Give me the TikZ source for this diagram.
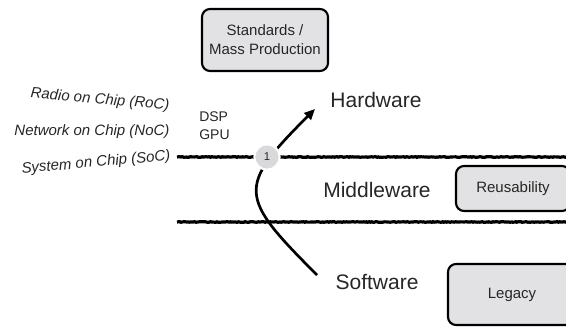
\documentclass[tikz,border=0pt]{standalone}
\usepackage{fontspec}
\setmainfont{Liberation Sans}
\usetikzlibrary{arrows.meta,decorations.pathmorphing}
\definecolor{boxgray}{HTML}{E2E2E4}
\definecolor{circgray}{HTML}{D9D9DB}
\definecolor{textgray}{HTML}{262626}

\begin{document}
\begin{tikzpicture}[x=0.75pt, y=0.75pt,
    box/.style = {draw=black, line width=1.6pt, rounded corners=6pt, fill=boxgray, inner sep=0pt, align=center, text=textgray, font=\fontsize{11.25}{14.25}\selectfont},
    layer/.style = {text=textgray, font=\fontsize{15.75}{18}\selectfont},
    chip/.style = {text=textgray, font=\itshape\fontsize{11.25}{13.5}\selectfont},
    rough/.style = {line width=2.4pt, decorate, decoration={random steps, segment length=1pt, amplitude=0.25pt}}]

    \path[use as bounding box, clip] (0,0) rectangle (566,327);

    % boxes
    \node[box, minimum width=94.5pt, minimum height=46.5pt] (std) at (265,287) {Standards /\\Mass Production};
    \node[box, minimum width=85.5pt, minimum height=33.75pt] (reuse) at (513,138.5) {Reusability};
    \node[box, minimum width=96pt, minimum height=45.75pt] (legacy) at (512,32.5) {Legacy};

    % layers
    \node[layer] (hw) at (376,227) {Hardware};
    \node[layer] (mw) at (377,137) {Middleware};
    \node[layer] (sw) at (377,45) {Software};

    % chips
    \node[chip, rotate=-5] (roc) at (100,227) {Radio on Chip (RoC)};
    \node[chip] (noc) at (92,195) {Network on Chip (NoC)};
    \node[chip, rotate=5] (soc) at (96,164) {System on Chip (SoC)};
    \node[text=textgray, align=left, anchor=west, inner sep=0pt, font=\fontsize{10.5}{13.5}\selectfont] (dsp) at (199,201) {DSP\\GPU};

    % borders
    \coordinate (b1) at (177,170);
    \coordinate (b1e) at (570,170);
    \coordinate (b2) at (177,105);
    \coordinate (b2e) at (570,105);
    \draw[rough] (b1) -- (b1e);
    \draw[rough] (b2) -- (b2e);

    % path
    \coordinate (tail) at (317,52);
    \coordinate (head) at (315,218);
    \draw[line width=2pt, -{Triangle[length=8pt, width=7pt]}] (tail) .. controls +(135:111) and +(225:111) .. (head);
    \node[circle, fill=circgray, draw=white, line width=1.5pt, minimum size=19pt, inner sep=0pt, text=textgray, font=\fontsize{8.5}{9}\selectfont] (one) at (267,170) {1};
\end{tikzpicture}
\end{document}
